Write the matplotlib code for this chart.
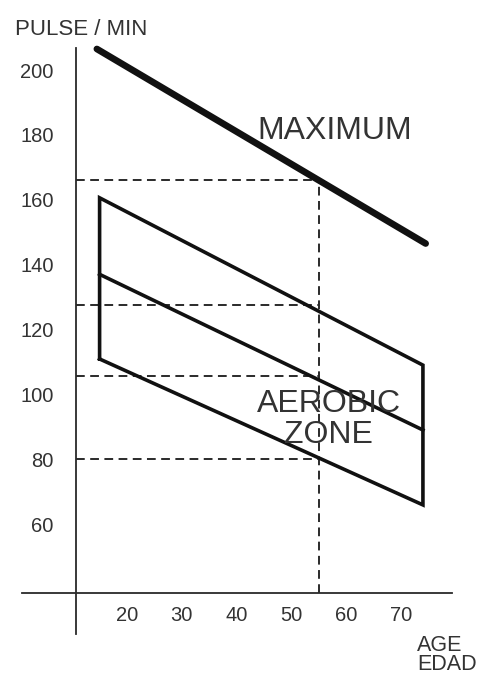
import matplotlib
matplotlib.use("Agg")
import matplotlib.pyplot as plt

# ---- data ----
yticks = [60, 80, 100, 120, 140, 160, 180, 200]
xticks = [20, 30, 40, 50, 60, 70]

max_age = [14.5, 74.5]
max_pulse = [206.5, 146.5]

zone_age = [15, 74]
zone_upper = [160.6, 109.0]
zone_mid = [137.0, 89.0]
zone_lower = [110.9, 65.9]

ref_age = 55
ref_pulse = [166, 127.5, 105.5, 80]

plt.rcParams['font.family'] = ['Liberation Sans', 'DejaVu Sans']

W, H = 482, 675
fig = plt.figure(figsize=(W / 100, H / 100), dpi=100)
ax = fig.add_axes([0, 0, 1, 1])
ax.set_xlim(-3.175, 84.78)
ax.set_ylim(13.45, 221.6)
ax.patch.set_alpha(0)

ink = '#111111'
grey = '#2a2a2a'
txt = '#333333'

# axes spines as crossing lines
for s in ['top', 'right']:
    ax.spines[s].set_visible(False)
ax.spines['left'].set_position(('data', 10.7))
ax.spines['left'].set_bounds(26.1, 206.9)
ax.spines['bottom'].set_position(('data', 38.6))
ax.spines['bottom'].set_bounds(0.84, 79.3)
for s in ['left', 'bottom']:
    ax.spines[s].set_linewidth(1.3)
    ax.spines[s].set_color(grey)

ax.set_xticks(xticks)
ax.set_yticks(yticks)
ax.set_xticklabels([str(v) for v in xticks])
ax.set_yticklabels([str(v) for v in yticks])
ax.tick_params(axis='both', length=0, labelsize=14.5, colors=txt)
ax.tick_params(axis='y', pad=16)
ax.tick_params(axis='x', pad=9)

# reference dashed lines
dash = (0, (4.5, 2.8))
for p in ref_pulse:
    ax.plot([10.7, ref_age], [p, p], color=grey, lw=1.4, linestyle=dash)
ax.plot([ref_age, ref_age], [38.6, ref_pulse[0]], color=grey, lw=1.4, linestyle=dash)

# maximum line
ax.plot(max_age, max_pulse, color=ink, lw=4.8, solid_capstyle='round')

# aerobic zone
ax.plot([zone_age[0], zone_age[0], zone_age[1], zone_age[1], zone_age[0]],
        [zone_lower[0], zone_upper[0], zone_upper[1], zone_lower[1], zone_lower[0]],
        color=ink, lw=2.6, solid_joinstyle='miter')
ax.plot(zone_age, zone_mid, color=ink, lw=2.6)

# labels
ax.text(43.7, 178.7, 'MAXIMUM', fontsize=23, color=txt, ha='left', va='baseline')
ax.text(56.8, 94.5, 'AEROBIC', fontsize=23, color=txt, ha='center', va='baseline')
ax.text(56.8, 85.0, 'ZONE', fontsize=23, color=txt, ha='center', va='baseline')

fig.text(15 / W, 1 - 35 / H, 'PULSE / MIN', fontsize=16, color=txt, ha='left', va='baseline')
fig.text(417 / W, 1 - 651 / H, 'AGE', fontsize=15.5, color=txt, ha='left', va='baseline')
fig.text(417 / W, 1 - 670 / H, 'EDAD', fontsize=15.5, color=txt, ha='left', va='baseline')

fig.savefig('out.png', dpi=100, facecolor='white')
